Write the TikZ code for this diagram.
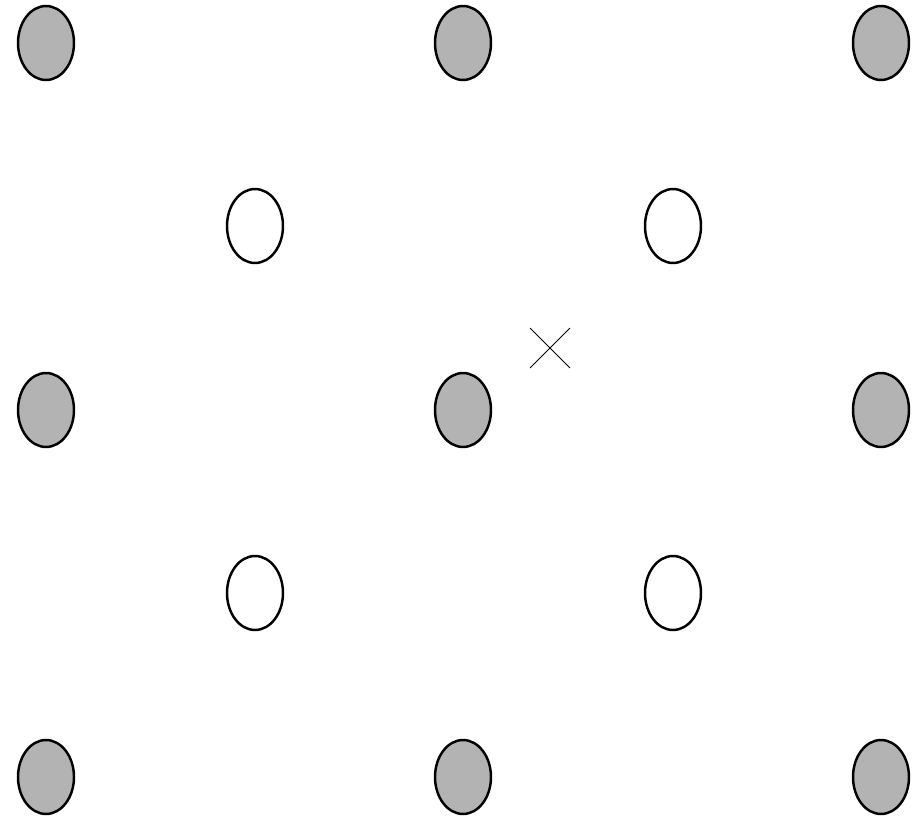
\documentclass[tikz,border=0pt]{standalone}
\usepackage{xcolor}
\usepackage{tikz}
\usetikzlibrary{shapes.geometric,shapes.misc}
\definecolor{sitegray}{HTML}{B3B3B3}

\begin{document}
\begin{tikzpicture}[
  x=0.02cm, y=-0.02cm,
  sitenode/.style={ellipse,draw=black,line width=1.4pt,inner sep=0pt,minimum width=1.12cm,minimum height=1.48cm},
  cornersite/.style={sitenode,fill=sitegray},
  centersite/.style={sitenode,fill=white},
  markcross/.style={cross out,draw=black,line width=0.5pt,inner sep=0pt,minimum size=0.78cm}
]
\useasboundingbox (0,0) rectangle (924,819);
% grey lattice sites
\foreach \i/\x in {1/46,2/463,3/881}
  \foreach \j/\y in {1/43,2/410,3/777}
    \node[cornersite] (g\i\j) at (\x,\y) {};
% white sites in between
\foreach \i/\x in {1/255,2/673}
  \foreach \j/\y in {1/226,2/593}
    \node[centersite] (w\i\j) at (\x,\y) {};
\node[markcross] (cross) at (550,348) {};
\end{tikzpicture}
\end{document}
